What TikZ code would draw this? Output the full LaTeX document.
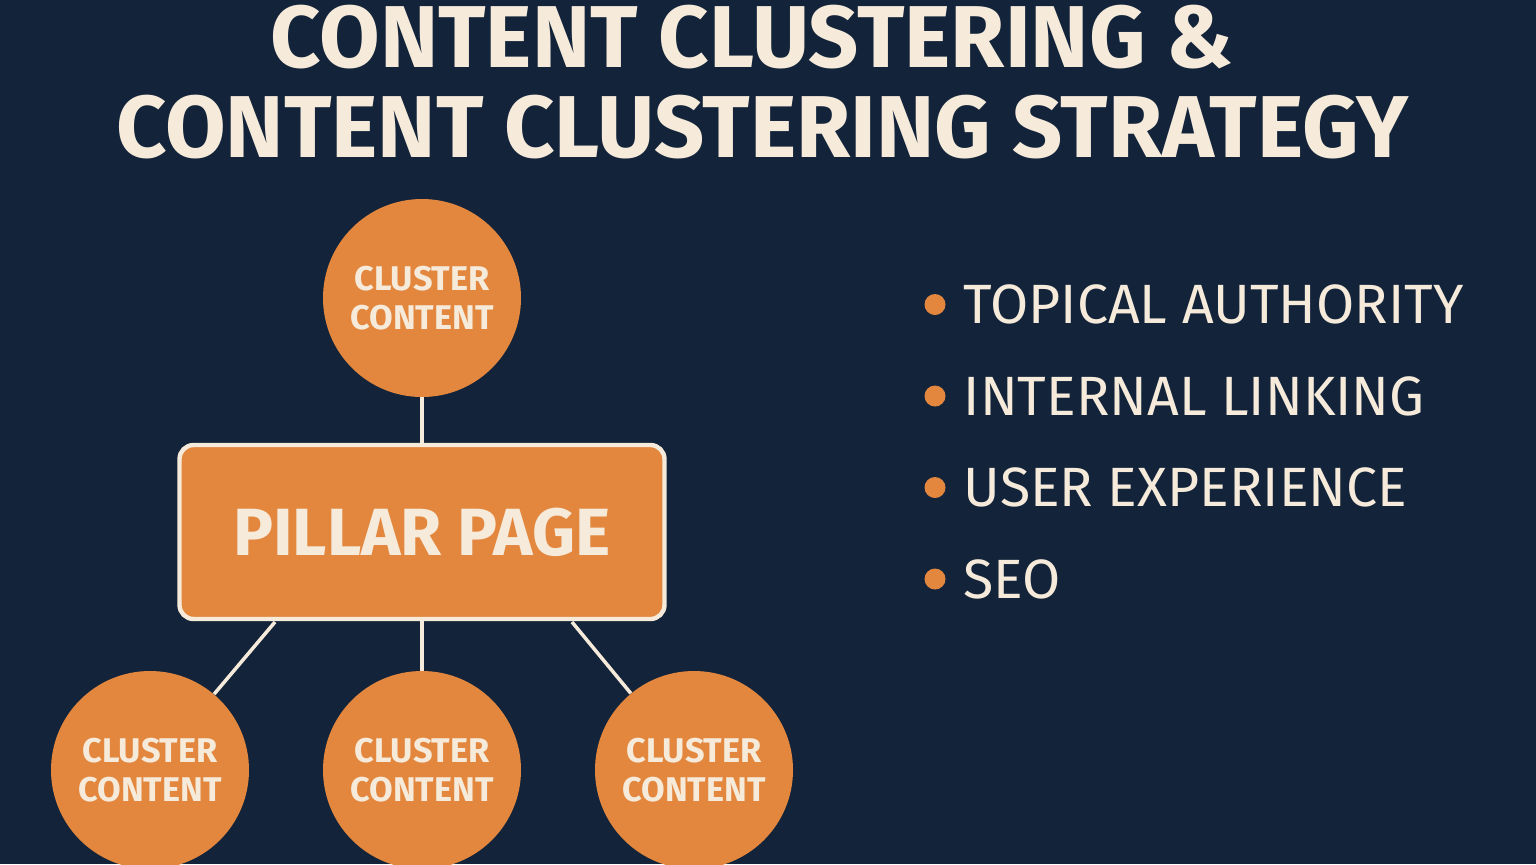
\documentclass[tikz,border=0pt]{standalone}
\usepackage{fontspec}
\setmainfont{Fira Sans}
\usetikzlibrary{positioning}
\definecolor{navy}{HTML}{12233A}
\definecolor{orng}{HTML}{E3873F}
\definecolor{cream}{HTML}{F6EBDB}

\begin{document}
\begin{tikzpicture}
\fill[navy] (0,0) rectangle (30.72,-17.28);
\useasboundingbox (0,0) rectangle (30.72,-17.28);
\begin{scope}[every node/.style={text=cream,font=\bfseries}]
    \node (t1) at (15.04,-0.75) {\fontsize{50}{54}\selectfont CONTENT CLUSTERING \&};
    \node (t2) at (15.25,-2.55) {\fontsize{50}{54}\selectfont CONTENT CLUSTERING STRATEGY};
\end{scope}
\begin{scope}[every node/.style={circle,fill=orng,minimum size=3.96cm,inner sep=0pt,
              text=cream,align=center,font=\fontsize{19.5}{22.5}\selectfont\bfseries}]
    \node (c0) at (8.44,-5.96) {CLUSTER\\CONTENT};
    \node (c1) at (3.0,-15.4) {CLUSTER\\CONTENT};
    \node (c2) at (8.44,-15.4) {CLUSTER\\CONTENT};
    \node (c3) at (13.88,-15.4) {CLUSTER\\CONTENT};
\end{scope}
\node[draw=cream,line width=2.5pt,fill=orng,rounded corners=8pt,minimum width=9.7cm,
      minimum height=3.48cm,text=cream,font=\fontsize{38}{42}\selectfont\bfseries]
      (pillar) at (8.44,-10.64) {PILLAR PAGE};
\begin{scope}[every path/.style={draw=cream,line width=2pt}]
    \path (c0) -- (pillar);
    \path (pillar.south) -- (c2);
    \path (5.5,-12.44) coordinate (p1) -- (c1);
    \path (11.44,-12.44) coordinate (p3) -- (c3);
\end{scope}
\begin{scope}[every node/.style={text=cream,anchor=west,font=\fontsize{31.5}{34}\selectfont}]
    \foreach \txt [count=\i] in {TOPICAL AUTHORITY,INTERNAL LINKING,USER EXPERIENCE,SEO} {
        \fill[orng] (18.7,-4.26-1.83*\i) circle (0.21);
        \node (b\i) at (19.15,-4.26-1.83*\i) {\txt};
    }
\end{scope}
\end{tikzpicture}
\end{document}
